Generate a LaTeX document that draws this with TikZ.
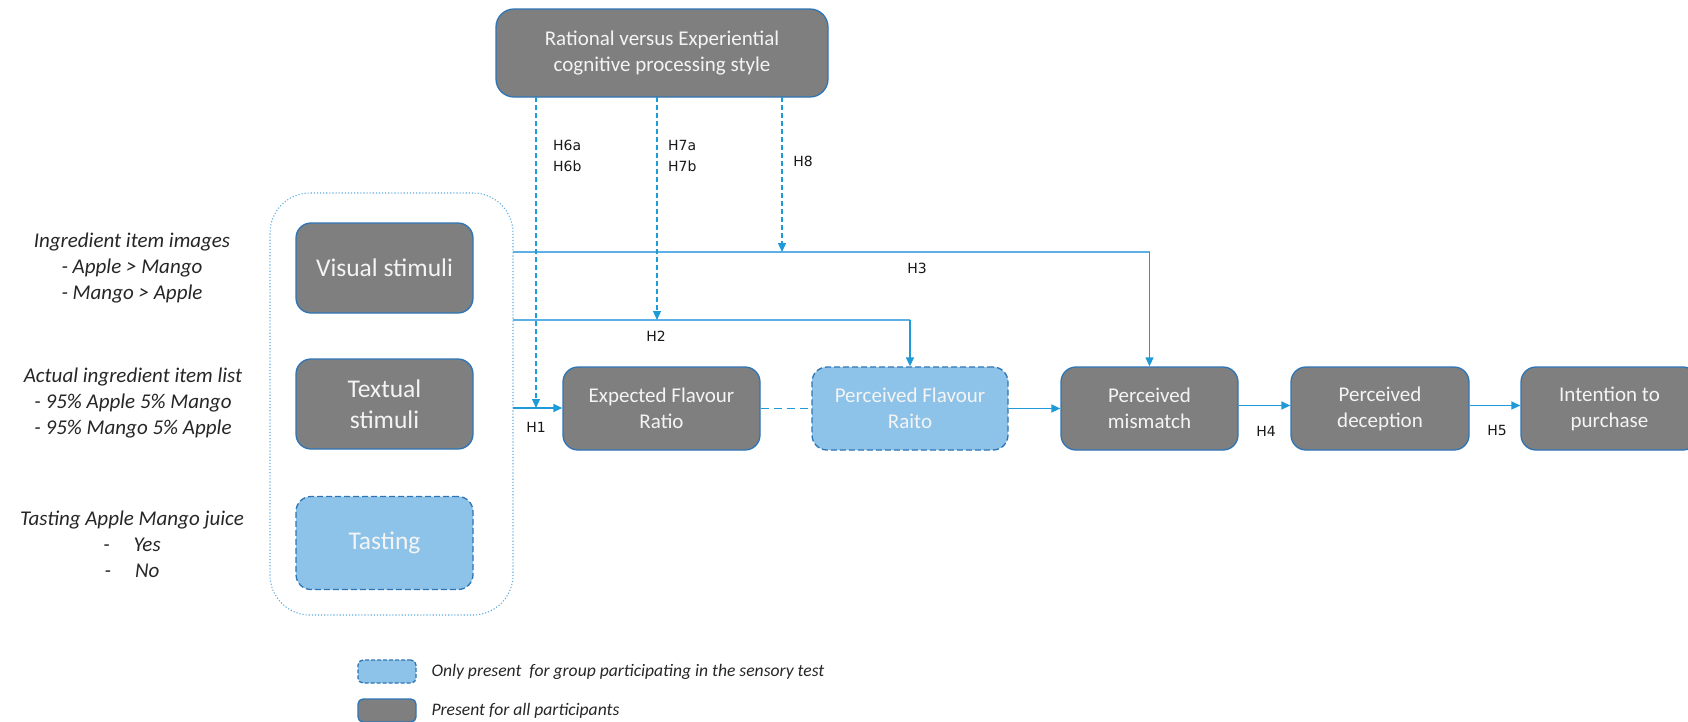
\documentclass[tikz,border=0pt]{standalone}
\usepackage{fontspec}
\setmainfont{Carlito}
\newfontfamily\hfont{DejaVu Sans}
\usetikzlibrary{arrows.meta}
\definecolor{boxgrey}{HTML}{7F7F7F}
\definecolor{boxedge}{HTML}{2E75B6}
\definecolor{lightblue}{HTML}{8DC3E9}
\definecolor{linkblue}{HTML}{1E9AD8}
\definecolor{linklight}{HTML}{5DB0E5}
\definecolor{containblue}{HTML}{5AAAE0}
\definecolor{offwhite}{HTML}{F4F4F4}
\begin{document}
\begin{tikzpicture}[x=1pt,y=-1pt,
  greybox/.style={draw=boxedge, line width=1.3pt, fill=boxgrey, rounded corners=15pt,
    text=offwhite, align=center, inner sep=0pt},
  bluebox/.style={greybox, fill=lightblue, dash pattern=on 6pt off 3pt},
  midtext/.style={font=\fontsize{21}{26}\selectfont},
  bigtext/.style={font=\fontsize{25.5}{31}\selectfont},
  sidetext/.style={font=\fontsize{21}{26}\selectfont\itshape, align=center, text=black!85},
  hlabel/.style={font=\hfont\fontsize{14}{21}\selectfont, align=left, text=black!90, inner sep=0pt},
  link/.style={draw=linkblue, line width=1.4pt, -{Triangle[length=9pt,width=8pt]}},
  hline/.style={draw=linklight, line width=1.4pt},
  dlink/.style={draw=linkblue, line width=1.1pt, dash pattern=on 5pt off 3pt, -{Triangle[length=9pt,width=8pt]}},
  legtext/.style={font=\fontsize{17.6}{20}\selectfont\itshape, anchor=west, text=black!85},
]
\useasboundingbox (0,0) rectangle (1688,721);

% container
\node[draw=containblue, line width=1.1pt, dotted, rounded corners=40pt,
      minimum width=243pt, minimum height=422pt, inner sep=0pt] (group) at (391.5,404) {};

% top box
\node[greybox, midtext, minimum width=332pt, minimum height=88pt, rounded corners=18pt] (top) at (662,53)
  {Rational versus Experiential\\cognitive processing style};

% stimuli boxes
\node[greybox, bigtext, minimum width=177pt, minimum height=90pt] (vis) at (384.5,268) {Visual stimuli};
\node[greybox, bigtext, minimum width=177pt, minimum height=90pt] (txt) at (384.5,404) {Textual\\stimuli};
\node[bluebox, bigtext, minimum width=177pt, minimum height=93pt] (tas) at (384.5,543) {Tasting};

% chain
\node[greybox, midtext, minimum width=197pt, minimum height=83pt] (exp) at (661.5,408.5) {Expected Flavour\\Ratio};
\node[bluebox, midtext, minimum width=196pt, minimum height=83pt] (flav) at (910,408.5) {Perceived Flavour\\Raito};
\node[greybox, midtext, minimum width=177pt, minimum height=83pt] (mis) at (1149.5,408.5) {Perceived\\mismatch};
\node[greybox, midtext, minimum width=178pt, minimum height=83pt] (dec) at (1380,408.5) {Perceived\\deception};
\node[greybox, midtext, minimum width=177pt, minimum height=83pt] (int) at (1609.5,408.5) {Intention to\\purchase};

% side texts
\node[sidetext] (s1) at (132,268) {Ingredient item images\\- Apple > Mango\\- Mango > Apple};
\node[sidetext] (s2) at (133,403) {Actual ingredient item list\\- 95\% Apple 5\% Mango\\- 95\% Mango 5\% Apple};
\node[sidetext] (s3) at (132,544) {Tasting Apple Mango juice\\-\hspace{24pt}Yes\\-\hspace{24pt}No};

% coordinates
\coordinate (g3) at (513,252);
\coordinate (g2) at (513,320);
\coordinate (g1) at (513,408);
\coordinate (d1) at (536,97);
\coordinate (d2) at (657,97);
\coordinate (d3) at (782,97);

% connectors
\draw[hline] (g3) -- (g3 -| mis.north);
\draw[link] (g3 -| mis.north) -- (mis.north);
\draw[hline] (g2) -- (g2 -| flav.north);
\draw[link] (g2 -| flav.north) -- (flav.north);
\draw[link] (g1) -- (exp.west |- g1);
\draw[draw=linkblue, line width=1.6pt, dash pattern=on 8pt off 5pt] (exp.east) -- (flav.west);
\draw[link] (flav.east) -- (mis.west);
\draw[link] ([yshift=3pt]mis.east) -- ([yshift=3pt]dec.west);
\draw[link] ([yshift=3pt]dec.east) -- ([yshift=3pt]int.west);

\draw[dlink] (d1) -- (d1 |- g1);
\draw[dlink] (d2) -- (d2 |- g2);
\draw[dlink] (d3) -- (d3 |- g3);

% labels
\node[hlabel, anchor=north west] (l6) at (553,140) {H6a\\H6b};
\node[hlabel, anchor=north west] (l7) at (668,140) {H7a\\H7b};
\node[hlabel] (l8) at (803,161) {H8};
\node[hlabel] (l3) at (917,268) {H3};
\node[hlabel] (l2) at (656,336) {H2};
\node[hlabel] (l1) at (536,427) {H1};
\node[hlabel] (l4) at (1266,431) {H4};
\node[hlabel] (l5) at (1497,430) {H5};

% legend
\node[bluebox, rounded corners=5pt, minimum width=58pt, minimum height=23pt, dash pattern=on 4pt off 2pt] (lg1) at (387,671.5) {};
\node[greybox, rounded corners=5pt, minimum width=58pt, minimum height=23pt] (lg2) at (387,710.5) {};
\node[legtext] (lt1) at (428,672) {Only present\ \ for group participating in the sensory test};
\node[legtext] (lt2) at (428,711) {Present for all participants};
\end{tikzpicture}
\end{document}
